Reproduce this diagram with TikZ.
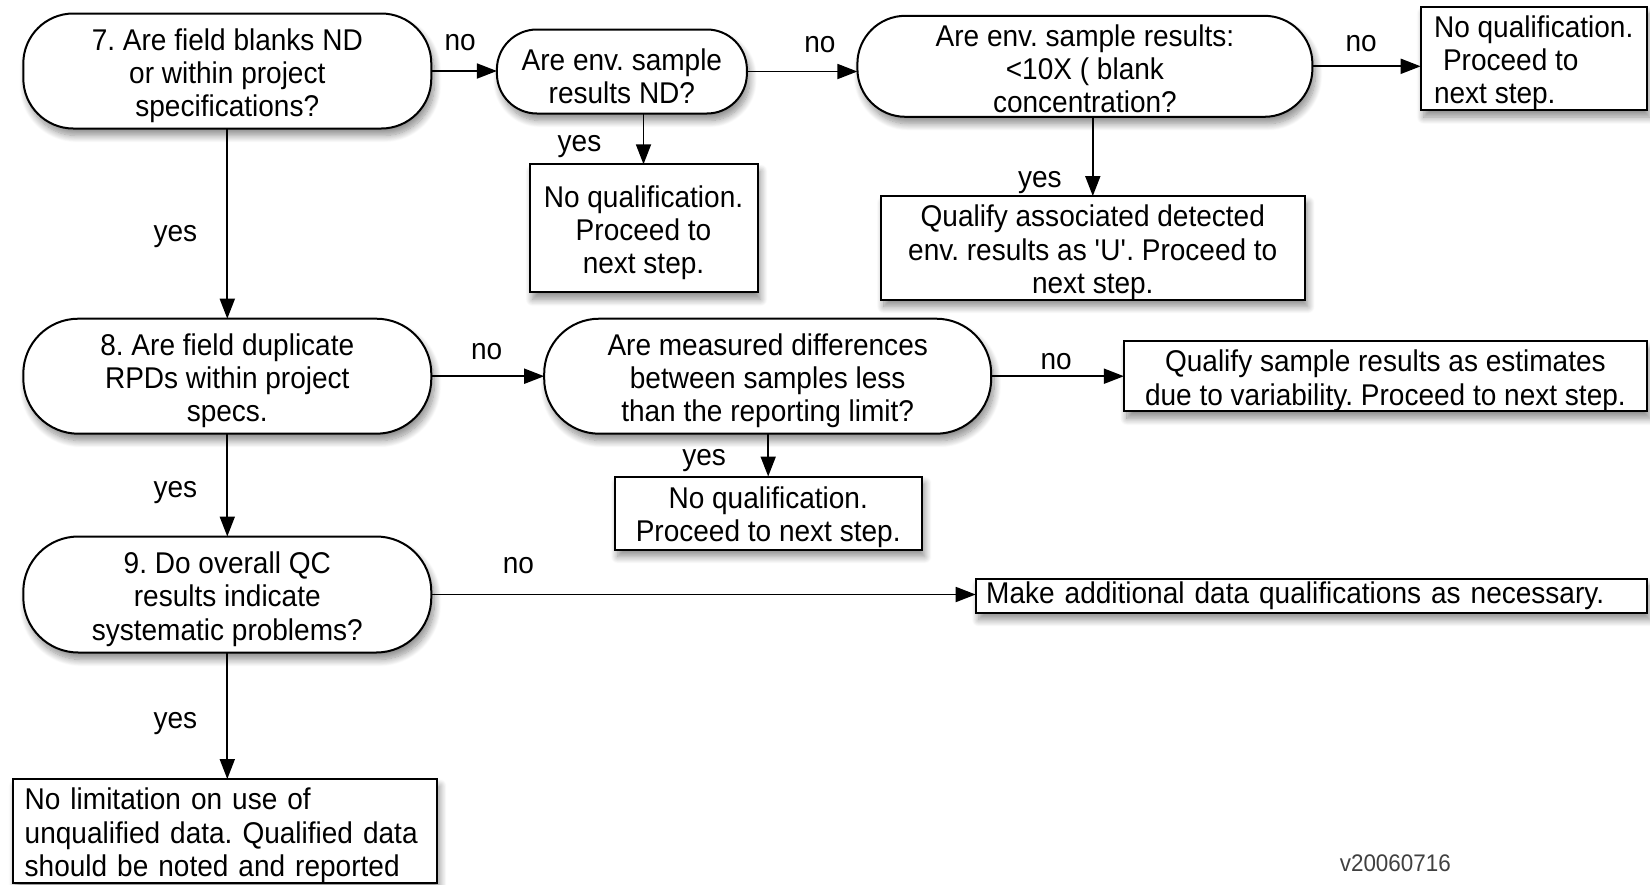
\documentclass[tikz,border=0pt]{standalone}
\usepackage{fontspec}
\setmainfont{Liberation Sans}[FakeStretch=0.934]
\usetikzlibrary{arrows.meta,shadows.blur}
\newcommand\tstrut{\rule{0pt}{1.03em}}
\newcommand\sstrut{\rule{0pt}{0.88em}}
\frenchspacing
\begin{document}
\begin{tikzpicture}[x=1pt,y=-1pt,
  base/.style={draw=black, line width=2pt, fill=white, inner sep=0pt, outer sep=0pt,
    font=\fontsize{30}{33.2}\selectfont, align=center,
    blur shadow={shadow xshift=3pt, shadow yshift=-7pt, shadow blur radius=7pt, shadow blur steps=12, shadow opacity=45}},
  pill/.style={base, rounded corners=#1},
  sbox/.style={base},
  arr/.style={line width=1.8pt, -{Triangle[length=20pt,width=15pt]}},
  lbl/.style={font=\fontsize{30}{33.2}\selectfont, inner sep=0pt}
]
\useasboundingbox (0,0) rectangle (1650,884);

% decision nodes
\node[pill=50pt, minimum width=408pt, minimum height=115pt] (n7) at (227.3,71) {\tstrut 7. Are field blanks ND\\or within project\\specifications?};
\node[pill=40pt, minimum width=250pt, minimum height=84pt] (env) at (621.9,71.5) {\tstrut Are env. sample\\results ND?};
\node[pill=48pt, minimum width=455pt, minimum height=101pt] (blank) at (1084.9,66.3) {\sstrut Are env. sample results:\\<10X ( blank\\concentration?};
\node[pill=55pt, minimum width=408pt, minimum height=115pt] (n8) at (227.3,376.2) {\tstrut 8. Are field duplicate\\RPDs within project\\specs.};
\node[pill=55pt, minimum width=447pt, minimum height=115pt] (meas) at (767.7,376.2) {\tstrut Are measured differences\\between samples less\\than the reporting limit?};
\node[pill=55pt, minimum width=408pt, minimum height=116pt] (n9) at (227.3,594.5) {\tstrut 9. Do overall QC\\results indicate\\systematic problems?};

% outcome boxes
\node[sbox, minimum width=226pt, minimum height=100pt, align=left] (tr) at (1533.7,58.4) {\tstrut No qualification.\\\hspace*{0.3em}Proceed to\\next step.};
\node[sbox, minimum width=228pt, minimum height=128pt] (noq1) at (643.5,228.3) {\tstrut No qualification.\\Proceed to\\next step.};
\node[sbox, minimum width=424pt, minimum height=100pt] (qu) at (1092.8,247.8) {\tstrut Qualify associated detected\\env. results as \textquotesingle U\textquotesingle. Proceed to\\next step.};
\node[sbox, minimum width=523pt, minimum height=68pt] (qs) at (1385.4,376.2) {\tstrut Qualify sample results as estimates\\due to variability. Proceed to next step.};
\node[sbox, minimum width=307pt, minimum height=73pt] (noq2) at (768.2,513) {\tstrut No qualification.\\Proceed to next step.};
\node[sbox, minimum width=671pt, minimum height=34pt, text width=650pt, align=left] (make) at (1311.2,595.6) {Make additional data qualifications as necessary.};
\node[sbox, minimum width=424pt, minimum height=102pt, text width=400pt, align=left] (nolim) at (224.7,830.8) {\tstrut No limitation on use of\\unqualified data. Qualified data\\should be noted and reported};

\node[font=\fontsize{24}{28}\selectfont, text=black!75, inner sep=0pt] (ver) at (1395.3,862.9) {v20060716};

% connectors
\draw[arr] (n7.east) -- node[lbl, pos=.44, yshift=28.6pt] (l1) {no} (n7.east -| env.west);
\draw[arr] (env.east) -- node[lbl, pos=.66, yshift=27pt] (l2) {no} (env.east -| blank.west);
\draw[arr] (blank.east) -- node[lbl, pos=.45, yshift=23pt] (l3) {no} (blank.east -| tr.west);
\draw[arr] (noq1.north |- env.south) -- node[lbl, pos=.56, xshift=-64pt, yshift=-5pt] (l4) {yes} (noq1.north);
\draw[arr] (qu.north |- blank.south) -- node[lbl, pos=.77, xshift=-53pt, yshift=-5pt] (l5) {yes} (qu.north);
\draw[arr] (n7.south) -- node[lbl, pos=.54, xshift=-52pt, yshift=-5pt] (l6) {yes} (n8.north);
\draw[arr] (n8.east) -- node[lbl, pos=.49, yshift=25pt] (l7) {no} (meas.west);
\draw[arr] (meas.east) -- node[lbl, pos=.49, yshift=15pt] (l8) {no} (qs.west);
\draw[arr] (noq2.north |- meas.south) -- node[lbl, pos=.51, xshift=-64pt, yshift=-5pt] (l9) {yes} (noq2.north);
\draw[arr] (n8.south) -- node[lbl, pos=.52, xshift=-52pt, yshift=-5pt] (l10) {yes} (n9.north);
\draw[arr] (n9.east) -- node[lbl, pos=.16, yshift=28.6pt] (l11) {no} (n9.east -| make.west);
\draw[arr] (n9.south) -- node[lbl, pos=.52, xshift=-52pt, yshift=-5pt] (l12) {yes} (n9.south |- nolim.north);
\end{tikzpicture}
\end{document}
